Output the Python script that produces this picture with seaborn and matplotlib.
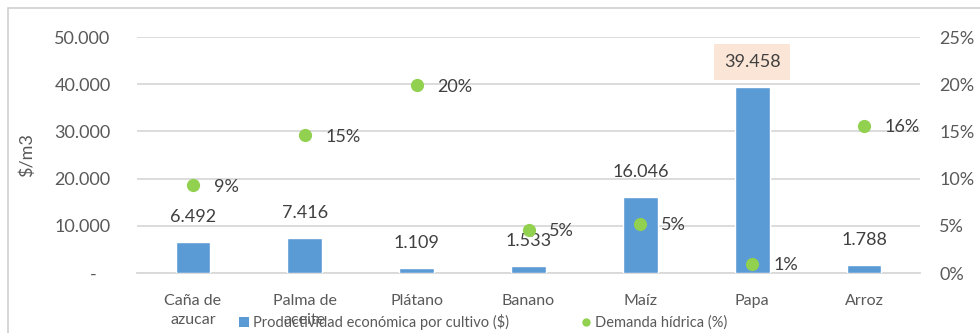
import matplotlib
matplotlib.use("Agg")
import matplotlib.pyplot as plt
from matplotlib.patches import Rectangle, Patch
from matplotlib.lines import Line2D
import seaborn as sns
import pandas as pd

# Data
cultivos = ["Caña de\nazucar", "Palma de\naceite", "Plátano", "Banano", "Maíz", "Papa", "Arroz"]
productividad = [6492, 7416, 1109, 1533, 16046, 39458, 1788]
demanda = [0.093, 0.146, 0.199, 0.046, 0.052, 0.0095, 0.156]
y_left_ticks = [0, 10000, 20000, 30000, 40000, 50000]
y_right_ticks = [0, 0.05, 0.10, 0.15, 0.20, 0.25]
serie_barras = "Productividad económica por cultivo ($)"
serie_puntos = "Demanda hídrica (%)"

df = pd.DataFrame({"cultivo": cultivos, "productividad": productividad, "demanda": demanda})

sns.set_theme(style="white")
plt.rcParams["font.family"] = ["Lato", "DejaVu Sans"]

BAR = "#5B9BD5"
DOT = "#92D050"
GRID = "#D9D9D9"
TICK = "#595959"
LABEL = "#404040"

W, H = 980, 333
fig = plt.figure(figsize=(W / 100, H / 100), dpi=100)
ax = fig.add_axes([137 / W, 1 - 273 / H, (920 - 137) / W, (273 - 37) / H])

# chart-area border
fig.patches.append(Rectangle((8 / W, -0.1), 1.2, 1 - 8 / H + 0.1, transform=fig.transFigure,
                             fill=False, edgecolor="#D0D0D0", linewidth=1.2, zorder=0))

sns.barplot(data=df, x="cultivo", y="productividad", color=BAR, width=0.31,
            saturation=1, ax=ax, zorder=3)
ax.set_xlim(-0.5, len(cultivos) - 0.5)
ax.set_ylim(0, 50000)
ax.set_yticks(y_left_ticks)
ax.set_yticklabels(["-   "] + [f"{v:,.0f}".replace(",", ".") for v in y_left_ticks[1:]])
ax.grid(axis="y", color=GRID, linewidth=1.3, zorder=0)
ax.set_axisbelow(True)
for s in ["top", "right", "left"]:
    ax.spines[s].set_visible(False)
ax.spines["bottom"].set_color(GRID)
ax.spines["bottom"].set_linewidth(1.3)
ax.tick_params(axis="y", length=0, pad=19, labelsize=13, labelcolor=TICK)
ax.tick_params(axis="x", length=0, pad=15, labelsize=11.5, labelcolor=TICK)
for lbl in ax.get_xticklabels():
    lbl.set_linespacing(1.5)
ax.set_xlabel("")
ax.set_ylabel("$/m3", fontsize=13, color=TICK, labelpad=14)

# bar value labels
for i, v in enumerate(productividad):
    txt = f"{v:,.0f}".replace(",", ".")
    kw = {}
    if v == max(productividad):
        kw["bbox"] = dict(boxstyle="square,pad=0.55", facecolor="#FBE5D6", edgecolor="none")
    ax.annotate(txt, (i, v), xytext=(0, 18), textcoords="offset points", ha="center",
                va="center", fontsize=13, color=LABEL, zorder=5, **kw)

# secondary axis with water demand
ax2 = ax.twinx()
sns.stripplot(data=df, x="cultivo", y="demanda", jitter=False, color=DOT, size=9.5,
              linewidth=0, ax=ax2, zorder=4, legend=False)
ax2.set_xlim(-0.5, len(cultivos) - 0.5)
ax2.set_ylim(0, 0.25)
ax2.set_yticks(y_right_ticks)
ax2.set_yticklabels([f"{t:.0%}" for t in y_right_ticks])
ax2.tick_params(axis="y", length=0, pad=14, labelsize=13, labelcolor=TICK)
ax2.set_ylabel("")
for s in ["top", "right", "left", "bottom"]:
    ax2.spines[s].set_visible(False)
for i, v in enumerate(demanda):
    ax2.annotate(f"{v:.0%}", (i, v), xytext=(15, -1), textcoords="offset points", ha="left",
                 va="center", fontsize=13, color=LABEL, zorder=5)

for a in (ax, ax2):
    if a.get_legend() is not None:
        a.get_legend().remove()

handles = [Patch(facecolor=BAR, edgecolor="none"),
           Line2D([], [], marker="o", linestyle="none", markerfacecolor=DOT,
                  markeredgecolor="none", markersize=6)]
fig.legend(handles, [serie_barras, serie_puntos], loc="center", ncol=2,
           bbox_to_anchor=(483 / W, 1 - 322 / H), frameon=False, fontsize=10.5,
           labelcolor=TICK, handlelength=0.7, handletextpad=0.3, columnspacing=4.9,
           borderaxespad=0)

fig.savefig("out.png", dpi=100)
